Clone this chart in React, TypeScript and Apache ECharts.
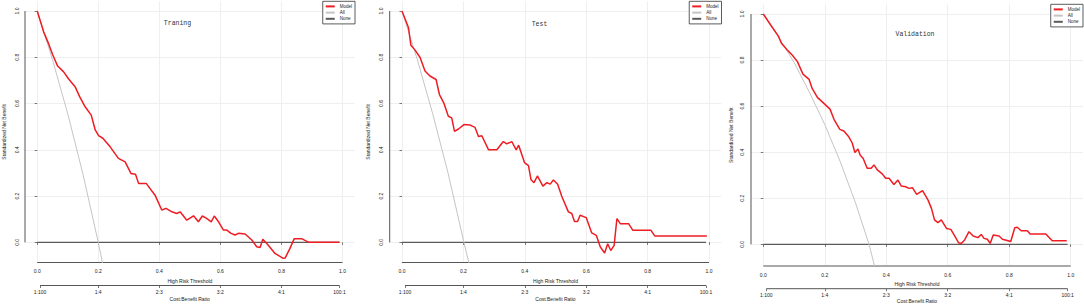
import React, { useEffect, useRef } from "react";
import * as echarts from "echarts";

// ---------- data ----------
const X_TICKS = [0, 0.2, 0.4, 0.6, 0.8, 1.0];
const Y_TICKS = [0, 0.2, 0.4, 0.6, 0.8, 1.0];
const CB_TICKS = [0.01, 0.2, 0.4, 0.6, 0.8, 0.99];
const CB_LABELS = ["1:100", "1:4", "2:3", "3:2", "4:1", "100:1"];
const TITLES = ["Traning", "Test", "Validation"];
const LEGEND_NAMES = ["Model", "All", "None"];
const X_NAME = "High Risk Threshold";
const CB_NAME = "Cost:Benefit Ratio";
const Y_NAME = "Standardized Net Benefit";

// Training
const TRAIN_T = [
  0, 0.021, 0.037, 0.051, 0.067, 0.086, 0.103, 0.124, 0.139, 0.157, 0.177, 0.19, 0.201, 0.215,
  0.239, 0.266, 0.288, 0.307, 0.322, 0.332, 0.357, 0.386, 0.408, 0.422, 0.441, 0.457, 0.468,
  0.49, 0.512, 0.528, 0.541, 0.555, 0.57, 0.58, 0.594, 0.61, 0.621, 0.635, 0.648, 0.659, 0.681,
  0.703, 0.719, 0.73, 0.739, 0.755, 0.779, 0.806, 0.812, 0.828, 0.842, 0.866, 0.888, 0.99,
];
const TRAIN_NB = [
  1.0, 0.91, 0.86, 0.81, 0.762, 0.738, 0.706, 0.673, 0.63, 0.586, 0.55, 0.486, 0.461, 0.45,
  0.413, 0.363, 0.348, 0.298, 0.294, 0.255, 0.255, 0.204, 0.14, 0.147, 0.132, 0.125, 0.132,
  0.096, 0.115, 0.089, 0.114, 0.104, 0.089, 0.114, 0.089, 0.053, 0.053, 0.039, 0.032, 0.039, 0.036,
  0.01, -0.019, -0.022, 0.013, -0.009, -0.048, -0.069, -0.068, -0.026, 0.016, 0.016, 0.001, 0.0,
];
const TRAIN_ALL_T = [0, 0.05, 0.1, 0.15, 0.2, 0.214];
const TRAIN_ALL_NB = [1.0, 0.79, 0.556, 0.294, 0.0, -0.089];

// Test
const TEST_T = [
  0, 0.021, 0.029, 0.042, 0.059, 0.075, 0.091, 0.111, 0.122, 0.136, 0.151, 0.162, 0.171, 0.184,
  0.202, 0.222, 0.238, 0.249, 0.26, 0.282, 0.309, 0.33, 0.341, 0.358, 0.372, 0.38, 0.399, 0.412,
  0.42, 0.43, 0.441, 0.459, 0.472, 0.483, 0.493, 0.507, 0.521, 0.542, 0.553, 0.562, 0.572, 0.58,
  0.6, 0.618, 0.633, 0.646, 0.66, 0.67, 0.68, 0.691, 0.7, 0.711, 0.738, 0.752, 0.811, 0.823, 0.993,
];
const TEST_NB = [
  1.0, 0.929, 0.852, 0.832, 0.799, 0.741, 0.719, 0.704, 0.639, 0.603, 0.545, 0.538, 0.48, 0.49,
  0.509, 0.507, 0.497, 0.458, 0.461, 0.4, 0.4, 0.436, 0.426, 0.435, 0.4, 0.42, 0.345, 0.332,
  0.272, 0.258, 0.287, 0.243, 0.258, 0.252, 0.27, 0.251, 0.197, 0.132, 0.125, 0.09, 0.09, 0.117,
  0.107, 0.041, 0.03, -0.02, -0.046, -0.006, -0.035, -0.013, 0.103, 0.081, 0.081, 0.052, 0.052, 0.028, 0.028,
];
const TEST_ALL_T = [0, 0.05, 0.1, 0.15, 0.2, 0.218];
const TEST_ALL_NB = [1.0, 0.79, 0.556, 0.3, 0.01, -0.089];

// Validation
const VAL_T = [
  0, 0.024, 0.049, 0.059, 0.078, 0.094, 0.111, 0.129, 0.149, 0.159, 0.176, 0.197, 0.217, 0.23,
  0.249, 0.262, 0.278, 0.289, 0.298, 0.308, 0.315, 0.325, 0.338, 0.351, 0.36, 0.371, 0.387, 0.398,
  0.409, 0.425, 0.438, 0.449, 0.463, 0.474, 0.485, 0.499, 0.518, 0.536, 0.547, 0.557, 0.568, 0.579,
  0.596, 0.61, 0.624, 0.635, 0.644, 0.655, 0.669, 0.683, 0.698, 0.709, 0.718, 0.729, 0.738, 0.748,
  0.767, 0.778, 0.805, 0.818, 0.826, 0.839, 0.859, 0.868, 0.919, 0.94, 0.987,
];
const VAL_NB = [
  1.0, 0.952, 0.904, 0.873, 0.844, 0.822, 0.793, 0.739, 0.716, 0.677, 0.638, 0.612, 0.587, 0.543,
  0.499, 0.492, 0.467, 0.441, 0.399, 0.414, 0.388, 0.373, 0.33, 0.33, 0.345, 0.323, 0.306, 0.287,
  0.287, 0.26, 0.279, 0.253, 0.25, 0.243, 0.246, 0.217, 0.233, 0.192, 0.156, 0.106, 0.094, 0.106,
  0.069, 0.065, 0.033, 0.007, 0.004, 0.019, 0.055, 0.036, 0.029, 0.043, 0.026, 0.022, 0.004, 0.041,
  0.036, 0.022, 0.012, 0.072, 0.074, 0.059, 0.059, 0.045, 0.045, 0.016, 0.016,
];
const VAL_ALL_T = [0, 0.05, 0.1, 0.15, 0.2, 0.25, 0.3, 0.344, 0.362];
const VAL_ALL_NB = [1.0, 0.9, 0.79, 0.66, 0.52, 0.36, 0.18, 0.0, -0.094];

const NONE_T = [0, 0.99];
const NONE_NB = [0, 0];

const MODEL_T = [TRAIN_T, TEST_T, VAL_T];
const MODEL_NB = [TRAIN_NB, TEST_NB, VAL_NB];
const ALL_T = [TRAIN_ALL_T, TEST_ALL_T, VAL_ALL_T];
const ALL_NB = [TRAIN_ALL_NB, TEST_ALL_NB, VAL_ALL_NB];

// ---------- layout / style ----------
const X_MIN = -0.04;
const X_MAX = 1.04;
const PANELS = [
  { left: 24.8, width: 329.9, top: 1.3, height: 261.2, yMin: -0.087, yMax: 1.042, cbY: 285.5,
    titleX: 177.5, titleY: 23, legendRight: 1084 - 355, legendTop: 1.3,
    xNameGap: 13, cbNameGap: 11, yNameGap: 19, yLabelMargin: 6 },
  { left: 389.7, width: 331.6, top: 1.3, height: 261.2, yMin: -0.087, yMax: 1.042, cbY: 285.5,
    titleX: 539.5, titleY: 24, legendRight: 1084 - 721.5, legendTop: 1.3,
    xNameGap: 13, cbNameGap: 11, yNameGap: 19, yLabelMargin: 6 },
  { left: 751, width: 332, top: 4.3, height: 261.7, yMin: -0.094, yMax: 1.042, cbY: 288.7,
    titleX: 915, titleY: 34, legendRight: 1, legendTop: 4.3,
    xNameGap: 12, cbNameGap: 10, yNameGap: 18, yLabelMargin: 7 },
];

const RED = "#ee1d23";
const ALL_GRAY = "#c4c4c4";
const NONE_GRAY = "#5a5a5a";
const AXIS_COLOR = "#555555";
const GRID_COLOR = "#efefef";
const TEXT_COLOR = "#222222";
const SANS = '"Liberation Sans", Arial, sans-serif';
const MONO = '"Liberation Mono", "Courier New", monospace';

const zip = (a: number[], b: number[]) => a.map((v, i) => [v, b[i]]);

function buildOption() {
  const grid: any[] = [];
  const xAxis: any[] = [];
  const yAxis: any[] = [];
  const series: any[] = [];
  const legend: any[] = [];
  const graphic: any[] = [];

  PANELS.forEach((p, i) => {
    const g = i * 2;
    grid.push({ left: p.left, top: p.top, width: p.width, height: p.height });
    grid.push({ left: p.left, top: p.cbY - 1, width: p.width, height: 1 });

    xAxis.push({
      gridIndex: g, type: "value", min: X_MIN, max: X_MAX, position: "bottom",
      axisLine: { show: false },
      axisTick: { show: true, customValues: X_TICKS, length: 2.5, lineStyle: { color: AXIS_COLOR, width: 0.8 } },
      axisLabel: { customValues: X_TICKS, formatter: (v: number) => v.toFixed(1), fontSize: 5, margin: 6, color: TEXT_COLOR, fontFamily: SANS },
      splitLine: { show: true, lineStyle: { color: GRID_COLOR, width: 1 } },
      name: X_NAME, nameLocation: "middle", nameGap: p.xNameGap,
      nameTextStyle: { fontSize: 5, color: TEXT_COLOR, fontFamily: SANS },
    });
    xAxis.push({
      gridIndex: g + 1, type: "value", min: X_MIN, max: X_MAX, position: "bottom",
      axisLine: { show: false },
      axisTick: { show: true, customValues: CB_TICKS, length: 2.5, lineStyle: { color: AXIS_COLOR, width: 0.8 } },
      axisLabel: {
        customValues: CB_TICKS,
        formatter: (v: number) => {
          const k = CB_TICKS.findIndex((t) => Math.abs(t - v) < 1e-6);
          return k >= 0 ? CB_LABELS[k] : "";
        },
        fontSize: 5, margin: 4, color: TEXT_COLOR, fontFamily: SANS,
      },
      splitLine: { show: false },
      name: CB_NAME, nameLocation: "middle", nameGap: p.cbNameGap,
      nameTextStyle: { fontSize: 5, color: TEXT_COLOR, fontFamily: SANS },
    });
    yAxis.push({
      gridIndex: g, type: "value", min: p.yMin, max: p.yMax,
      axisLine: { show: false },
      axisTick: { show: true, customValues: Y_TICKS, length: 2.5, lineStyle: { color: AXIS_COLOR, width: 0.8 } },
      axisLabel: { customValues: Y_TICKS, rotate: 90, formatter: (v: number) => v.toFixed(1), fontSize: 5, margin: p.yLabelMargin, color: TEXT_COLOR, fontFamily: SANS },
      splitLine: { show: true, lineStyle: { color: GRID_COLOR, width: 1 } },
      name: Y_NAME, nameLocation: "middle", nameGap: p.yNameGap,
      nameTextStyle: { fontSize: 5, color: TEXT_COLOR, fontFamily: SANS },
    });
    yAxis.push({ gridIndex: g + 1, type: "value", min: 0, max: 1, show: false });

    const base = { type: "line", xAxisIndex: g, yAxisIndex: g, showSymbol: false, symbol: "none", silent: true };

    // axis lines (drawn through the scales)
    series.push({ ...base, name: "_xaxis" + i, clip: false, z: 1,
      data: [[X_TICKS[0], p.yMin], [X_TICKS[X_TICKS.length - 1], p.yMin]],
      lineStyle: { color: AXIS_COLOR, width: 1 } });
    series.push({ ...base, name: "_yaxis" + i, clip: false, z: 1,
      data: [[X_MIN, Y_TICKS[0]], [X_MIN, Y_TICKS[Y_TICKS.length - 1]]],
      lineStyle: { color: AXIS_COLOR, width: 1 } });
    series.push({ ...base, xAxisIndex: g + 1, yAxisIndex: g + 1, name: "_cbaxis" + i, clip: false, z: 1,
      data: [[CB_TICKS[0], 0], [CB_TICKS[CB_TICKS.length - 1], 0]],
      lineStyle: { color: AXIS_COLOR, width: 1 } });

    series.push({ ...base, name: "None", z: 2, color: NONE_GRAY,
      data: zip(NONE_T, NONE_NB), lineStyle: { color: NONE_GRAY, width: 1.3 } });
    series.push({ ...base, name: "All", z: 3, color: ALL_GRAY,
      data: zip(ALL_T[i], ALL_NB[i]), lineStyle: { color: ALL_GRAY, width: 1 } });
    series.push({ ...base, name: "Model", z: 4, color: RED,
      data: zip(MODEL_T[i], MODEL_NB[i]), lineStyle: { color: RED, width: 1.5 } });

    legend.push({
      orient: "vertical", right: p.legendRight, top: p.legendTop,
      padding: [2, 3, 2, 3], itemGap: 0, itemWidth: 9, itemHeight: 2, icon: "rect",
      borderColor: "#333", borderWidth: 0.8, backgroundColor: "#fff",
      selectedMode: false,
      textStyle: { fontSize: 4.5, lineHeight: 6.2, color: TEXT_COLOR, fontFamily: SANS },
      data: LEGEND_NAMES,
    });

    graphic.push({
      type: "text", x: p.titleX, y: p.titleY, silent: true,
      style: { text: TITLES[i], fontSize: 6.5, fontFamily: MONO, fill: "#333", align: "center", verticalAlign: "middle" },
    });
  });

  return {
    animation: false,
    backgroundColor: "#ffffff",
    textStyle: { fontFamily: SANS },
    grid, xAxis, yAxis, series, legend, graphic,
  };
}

export default function App() {
  const ref = useRef<HTMLDivElement>(null);
  useEffect(() => {
    if (!ref.current) return;
    const chart = echarts.init(ref.current, undefined, { renderer: "svg" });
    chart.setOption(buildOption() as any);
    return () => chart.dispose();
  }, []);
  return (
    <div
      ref={ref}
      style={{ position: "absolute", left: 0, top: 0, width: 1084, height: 305, background: "#fff" }}
    />
  );
}
